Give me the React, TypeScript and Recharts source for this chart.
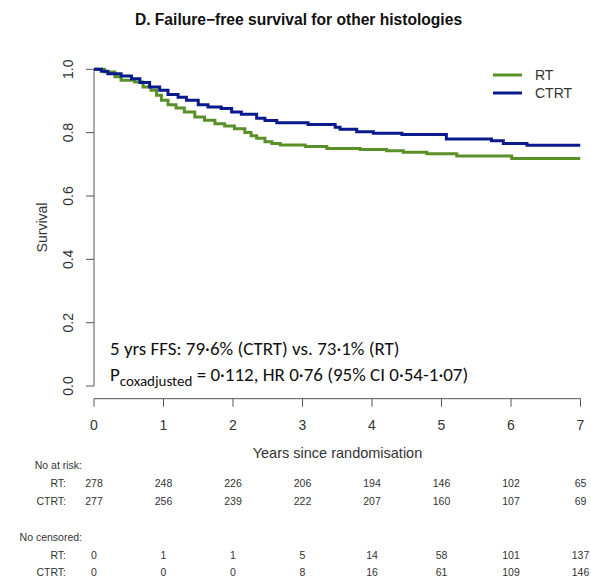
import React from 'react';
import { LineChart, Line, XAxis, YAxis, ReferenceLine, Customized } from 'recharts';

// Kaplan-Meier step points (years, survival)
const rtTimes = [0, 0.15, 0.3, 0.39, 0.585, 0.705, 0.82, 0.9, 0.97, 1.065, 1.18, 1.3, 1.45, 1.59, 1.74, 1.88, 2.02, 2.17, 2.26, 2.34, 2.46, 2.56, 2.68, 3.04, 3.35, 3.83, 4.21, 4.45, 4.79, 5.22, 6.01, 7.0];
const rtSurv = [1.0, 0.991, 0.976, 0.965, 0.96, 0.944, 0.934, 0.918, 0.902, 0.888, 0.878, 0.865, 0.849, 0.839, 0.828, 0.821, 0.812, 0.8, 0.79, 0.782, 0.771, 0.766, 0.761, 0.756, 0.75, 0.747, 0.743, 0.738, 0.733, 0.726, 0.718, 0.718];

const ctrtTimes = [0, 0.105, 0.2, 0.39, 0.54, 0.66, 0.8, 0.945, 1.065, 1.21, 1.33, 1.5, 1.64, 1.83, 1.98, 2.12, 2.34, 2.46, 2.63, 3.08, 3.47, 3.54, 3.78, 4.02, 4.43, 5.07, 5.72, 5.89, 6.23, 7.0];
const ctrtSurv = [1.0, 0.994, 0.986, 0.979, 0.97, 0.958, 0.944, 0.934, 0.92, 0.912, 0.902, 0.888, 0.881, 0.876, 0.865, 0.858, 0.845, 0.838, 0.831, 0.826, 0.817, 0.811, 0.803, 0.798, 0.794, 0.78, 0.774, 0.766, 0.76, 0.76];

const yearTicks = [0, 1, 2, 3, 4, 5, 6, 7];
const survTicks = [0, 0.2, 0.4, 0.6, 0.8, 1.0];

const rtAtRisk = [278, 248, 226, 206, 194, 146, 102, 65];
const ctrtAtRisk = [277, 256, 239, 222, 207, 160, 107, 69];
const rtCensored = [0, 1, 1, 5, 14, 58, 101, 137];
const ctrtCensored = [0, 0, 0, 8, 16, 61, 109, 146];

const seriesNames = ['RT', 'CTRT'];

const rtData = rtTimes.map((t, i) => ({ t, s: rtSurv[i] }));
const ctrtData = ctrtTimes.map((t, i) => ({ t, s: ctrtSurv[i] }));

const ARIAL = "'Liberation Sans', Arial, sans-serif";
const CAL = "Carlito, Lato, 'Open Sans', sans-serif";
const GREEN = '#5B9029';
const BLUE = '#0A1A8C';
const seriesColors = [GREEN, BLUE];
const AXIS = '#555';

const XTick = (props: any) => {
  const { x, payload } = props;
  const i = yearTicks.indexOf(payload.value);
  return (
    <g fontFamily={ARIAL}>
      <text x={x} y={430} textAnchor="middle" fontSize={14} fill="#333">{payload.value}</text>
      <text x={x} y={487} textAnchor="middle" fontSize={10.5} fill="#333">{rtAtRisk[i]}</text>
      <text x={x} y={505} textAnchor="middle" fontSize={10.5} fill="#333">{ctrtAtRisk[i]}</text>
      <text x={x} y={559} textAnchor="middle" fontSize={10.5} fill="#333">{rtCensored[i]}</text>
      <text x={x} y={576} textAnchor="middle" fontSize={10.5} fill="#333">{ctrtCensored[i]}</text>
    </g>
  );
};

const YTick = (props: any) => {
  const { y, payload } = props;
  return (
    <text x={73} y={y} transform={`rotate(-90, 73, ${y})`} textAnchor="middle" fontSize={14} fill="#333" fontFamily={ARIAL}>
      {Number(payload.value).toFixed(1)}
    </text>
  );
};

const Overlay = () => (
  <g>
    <text x={298.5} y={24.6} textAnchor="middle" fontSize={15.6} fontWeight="bold" fill="#111" fontFamily={ARIAL}>
      D. Failure−free survival for other histologies
    </text>
    <text x={47} y={227.5} transform="rotate(-90, 47, 227.5)" textAnchor="middle" fontSize={14} fill="#333" fontFamily={ARIAL}>
      Survival
    </text>
    <text x={337.5} y={458} textAnchor="middle" fontSize={14.5} fill="#333" fontFamily={ARIAL}>
      Years since randomisation
    </text>
    {seriesNames.map((n, i) => (
      <g key={n}>
        <line x1={493} x2={522} y1={75 + i * 18} y2={75 + i * 18} stroke={seriesColors[i]} strokeWidth={3} />
        <text x={535} y={80 + i * 18} fontSize={14} fill="#333" fontFamily={ARIAL}>{n}</text>
      </g>
    ))}
    <text x={110} y={355} fontSize={19} fill="#111" fontFamily={CAL}>
      5 yrs FFS: 79·6% (CTRT) vs. 73·1% (RT)
    </text>
    <text x={110} y={381} fontSize={19} fill="#111" fontFamily={CAL}>
      P<tspan fontSize={15} dy={5}>coxadjusted</tspan><tspan dy={-5}> = 0·112, HR 0·76 (95% CI 0·54-1·07)</tspan>
    </text>
    <g fontFamily={ARIAL} fontSize={10.5} fill="#333">
      <text x={82} y={469} textAnchor="end">No at risk:</text>
      <text x={66} y={487} textAnchor="end">RT:</text>
      <text x={66} y={505} textAnchor="end">CTRT:</text>
      <text x={82} y={541} textAnchor="end">No censored:</text>
      <text x={66} y={559} textAnchor="end">RT:</text>
      <text x={66} y={576} textAnchor="end">CTRT:</text>
    </g>
  </g>
);

export default function App() {
  return (
    <div style={{ position: 'absolute', left: 0, top: 0, width: 591, height: 587, background: '#fff' }}>
      <LineChart width={591} height={587} margin={{ top: 56.6, right: 10.5, bottom: 0, left: 0 }}>
        <XAxis
          dataKey="t"
          type="number"
          domain={[0, 7]}
          ticks={yearTicks}
          interval={0}
          height={188.3}
          tickSize={8}
          axisLine={{ stroke: AXIS }}
          tickLine={{ stroke: AXIS }}
          tick={<XTick />}
          allowDataOverflow
        />
        <YAxis
          type="number"
          domain={[-0.04, 1.04]}
          ticks={survTicks}
          interval={0}
          width={94}
          tickSize={8}
          axisLine={false}
          tickLine={{ stroke: AXIS }}
          tick={<YTick />}
          allowDataOverflow
        />
        <ReferenceLine segment={[{ x: 0, y: 0 }, { x: 0, y: 1 }]} stroke={AXIS} strokeWidth={1} />
        <Line data={rtData} dataKey="s" name="RT" type="stepAfter" stroke={GREEN} strokeWidth={3} dot={false} isAnimationActive={false} />
        <Line data={ctrtData} dataKey="s" name="CTRT" type="stepAfter" stroke={BLUE} strokeWidth={3} dot={false} isAnimationActive={false} />
        <Customized component={<Overlay />} />
      </LineChart>
    </div>
  );
}
